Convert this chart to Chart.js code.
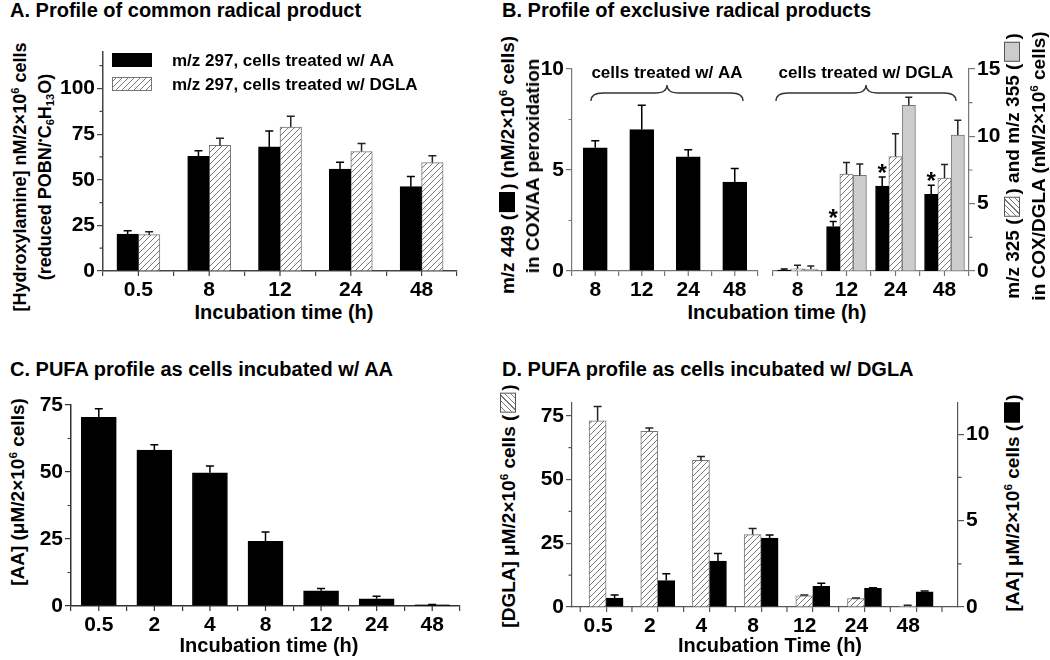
<!DOCTYPE html>
<html>
<head>
<meta charset="utf-8">
<script src="https://cdn.jsdelivr.net/npm/chart.js@4.4.1/dist/chart.umd.min.js"></script>
<style>
  html, body { margin: 0; padding: 0; background: #fff; }
  #fig { position: relative; width: 1050px; height: 660px; overflow: hidden;
         font-family: 'Liberation Sans', Arial, sans-serif; font-weight: bold; color: #000; }
  #fig canvas { position: absolute; }
  .title { position: absolute; font-size: 20px; line-height: 20px; white-space: nowrap; }
  .xt { position: absolute; font-size: 20px; line-height: 20px; white-space: nowrap; transform: translateX(-50%); }
  .yt { position: absolute; font-size: 19px; line-height: 20px; white-space: nowrap;
        transform: translate(-50%, -50%) rotate(-90deg); }
  .yt.small { font-size: 18px; }
  sup { font-size: 0.62em; vertical-align: 0.6em; line-height: 0; }
  sub { font-size: 0.62em; vertical-align: -0.3em; line-height: 0; }
  .sw { display: inline-block; width: 18px; height: 14px; border: 1px solid #555; vertical-align: -1px; margin: 0 2px; }
  .sw.black { background: #000; border-color: #000; }
  .sw.gray { background: #ccc; }
  .sw.hatch { background: repeating-linear-gradient(135deg, #fff 0 3px, #777 3px 4px); }
</style>
</head>
<body>
<div id="fig">
  <div class="title" style="left:10px;top:0px">A. Profile of common radical product</div>
  <div class="title" style="left:502px;top:0px">B. Profile of exclusive radical products</div>
  <div class="title" style="left:10px;top:359px">C. PUFA profile as cells incubated w/ AA</div>
  <div class="title" style="left:502px;top:359px">D. PUFA profile as cells incubated w/ DGLA</div>

  <canvas id="chartA"></canvas>
  <canvas id="chartBL"></canvas>
  <canvas id="chartBR"></canvas>
  <canvas id="chartC"></canvas>
  <canvas id="chartD"></canvas>

  <div class="xt" style="left:284px;top:302px">Incubation time (h)</div>
  <div class="xt" style="left:777px;top:302px">Incubation time (h)</div>
  <div class="xt" style="left:269px;top:635px">Incubation time (h)</div>
  <div class="xt" style="left:770px;top:635px">Incubation Time (h)</div>

  <div class="yt small" style="left:20px;top:177px">[Hydroxylamine] nM/2×10<sup>6</sup> cells</div>
  <div class="yt small" style="left:45px;top:177px">(reduced POBN/<sup>•</sup>C<sub>6</sub>H<sub>13</sub>O)</div>

  <div class="yt" style="left:508px;top:165px">m/z 449 (<span class="sw black"></span>) (nM/2×10<sup>6</sup> cells)</div>
  <div class="yt" style="left:533px;top:166px">in COX/AA peroxidation</div>
  <div class="yt" style="left:1013px;top:166px">m/z 325 (<span class="sw hatch"></span>) and m/z 355 (<span class="sw gray"></span>)</div>
  <div class="yt" style="left:1039px;top:166px">in COX/DGLA (nM/2×10<sup>6</sup> cells)</div>

  <div class="yt" style="left:18px;top:492px">[AA] (μM/2×10<sup>6</sup> cells)</div>
  <div class="yt" style="left:509px;top:506px">[DGLA] μM/2×10<sup>6</sup> cells (<span class="sw hatch"></span>)</div>
  <div class="yt" style="left:1013px;top:503px">[AA] μM/2×10<sup>6</sup> cells (<span class="sw black"></span>)</div>
</div>

<script>
// ---------- datos ----------
// A: hidroxilamina m/z 297
const timesA = ["0.5", "8", "12", "24", "48"];
const hydroxAA = [20.2, 62.8, 68.0, 55.8, 46.2];
const hydroxAAErr = [1.8, 3.1, 8.7, 3.8, 5.6];
const hydroxDGLA = [19.9, 68.8, 78.9, 65.5, 59.4];
const hydroxDGLAErr = [1.6, 3.9, 5.9, 4.4, 3.8];

// B: productos exclusivos
const timesB = ["8", "12", "24", "48"];
const m449AA = [6.1, 7.0, 5.65, 4.4];
const m449AAErr = [0.35, 1.2, 0.35, 0.67];
const m449DGLA = [0.05, 2.2, 4.2, 3.8];
const m449DGLAErr = [0.05, 0.25, 0.45, 0.45];
const m325DGLA = [0.17, 7.2, 8.5, 6.9];
const m325DGLAErr = [0.25, 0.85, 1.7, 1.0];
const m355DGLA = [0.15, 7.1, 12.3, 10.1];
const m355DGLAErr = [0.22, 0.85, 0.6, 1.1];
const starsB = [false, true, true, true];

// C: AA en células incubadas con AA
const timesC = ["0.5", "2", "4", "8", "12", "24", "48"];
const aaC = [70.4, 58.2, 49.7, 24.1, 5.7, 2.7, 0.4];
const aaCErr = [3.2, 2.0, 2.5, 3.5, 0.8, 0.9, 0.2];

// D: DGLA / AA en células incubadas con DGLA
const timesD = ["0.5", "2", "4", "8", "12", "24", "48"];
const dglaD = [73.0, 68.9, 57.5, 28.4, 4.4, 3.3, 0.4];
const dglaDErr = [5.6, 1.3, 1.5, 2.4, 0.3, 0.2, 0.3];
const aaD = [0.51, 1.53, 2.65, 3.98, 1.2, 1.08, 0.88];
const aaDErr = [0.18, 0.39, 0.45, 0.18, 0.17, 0.04, 0.04];

// ---------- estilo común ----------
const FONT = "'Liberation Sans', Arial, sans-serif";
Chart.defaults.font.family = FONT;
Chart.defaults.font.weight = "bold";
Chart.defaults.color = "#000";
Chart.defaults.animation = false;
Chart.defaults.responsive = false;
Chart.defaults.devicePixelRatio = 1;
Chart.defaults.events = [];
Chart.defaults.plugins.legend.display = false;
Chart.defaults.plugins.tooltip.enabled = false;

const tickFont = { family: FONT, size: 21, weight: "bold" };

function hatch(color = "#777") {
  const s = 6;
  const c = document.createElement("canvas");
  c.width = c.height = s;
  const g = c.getContext("2d");
  g.fillStyle = "#fff";
  g.fillRect(0, 0, s, s);
  g.strokeStyle = color;
  g.lineWidth = 1;
  g.beginPath();
  g.moveTo(0, s); g.lineTo(s, 0);
  g.moveTo(-1, 1); g.lineTo(1, -1);
  g.moveTo(s - 1, s + 1); g.lineTo(s + 1, s - 1);
  g.stroke();
  return g.createPattern(c, "repeat");
}

function place(id, left, top, width, height) {
  const c = document.getElementById(id);
  c.width = width;
  c.height = height;
  c.style.left = left + "px";
  c.style.top = top + "px";
  c.style.width = width + "px";
  c.style.height = height + "px";
  return c;
}

function xCat(color, width) {
  return {
    type: "category",
    offset: true,
    grid: { drawOnChartArea: false, drawTicks: true, tickLength: 5, color, lineWidth: 1.2, offset: true },
    border: { display: true, color, width },
    ticks: { font: tickFont, color: "#000", padding: 2, maxRotation: 0, autoSkip: false },
    afterFit: (s) => { s.height = 30; },
  };
}

function yLin(min, max, step, color, width, position = "left", w = 42) {
  return {
    type: "linear",
    position,
    min,
    max,
    grid: { drawOnChartArea: false, drawTicks: true, tickLength: 6, color, lineWidth: 1.2 },
    border: { display: true, color, width },
    ticks: { stepSize: step, includeBounds: false, font: tickFont, color: "#000", padding: 2 },
    afterFit: (s) => { s.width = w; },
  };
}

// ---------- plugins ----------
// barras de error (solo hacia arriba) y asteriscos
const errorBars = {
  id: "errorBars",
  afterDatasetsDraw(chart) {
    const { ctx } = chart;
    ctx.save();
    ctx.lineWidth = 1.5;
    chart.data.datasets.forEach((ds, i) => {
      if (!ds.err) return;
      const meta = chart.getDatasetMeta(i);
      const yScale = chart.scales[meta.yAxisID];
      meta.data.forEach((bar, j) => {
        const d = ds.data[j];
        const v = typeof d === "object" ? d.y : d;
        const top = yScale.getPixelForValue(v + ds.err[j]);
        const cap = ds.cap || 4;
        ctx.strokeStyle = ds.errColor || "#000";
        ctx.beginPath();
        ctx.moveTo(bar.x, bar.y);
        ctx.lineTo(bar.x, top);
        ctx.moveTo(bar.x - cap, top);
        ctx.lineTo(bar.x + cap, top);
        ctx.stroke();
        if (ds.stars && ds.stars[j]) {
          ctx.fillStyle = "#000";
          ctx.font = `bold 24px ${FONT}`;
          ctx.textAlign = "center";
          ctx.textBaseline = "alphabetic";
          ctx.fillText("*", bar.x, top + 4);
        }
      });
    });
    ctx.restore();
  },
};

// ticks menores estilo Origin
const minorTicks = {
  id: "minorTicks",
  afterDraw(chart) {
    const { ctx } = chart;
    ctx.save();
    ctx.lineWidth = 1.2;
    Object.values(chart.scales).forEach((s) => {
      if (!s.options.display) return;
      ctx.strokeStyle = s.options.border.color;
      ctx.beginPath();
      if (s.isHorizontal()) {
        const xs = [];
        if (s.type === "category") {
          s.ticks.forEach((t, i) => xs.push(s.getPixelForTick(i)));
        } else {
          for (let v = Math.ceil(s.min - 0.5) + 0.5; v < s.max; v += 1) xs.push(s.getPixelForValue(v));
        }
        xs.forEach((x) => { ctx.moveTo(x, s.top); ctx.lineTo(x, s.top + 5); });
      } else {
        const step = s.options.ticks.stepSize;
        const left = s.position === "left";
        const x = left ? s.right : s.left;
        for (let v = s.min + step / 2; v <= s.max; v += step) {
          const y = s.getPixelForValue(v);
          ctx.moveTo(x, y);
          ctx.lineTo(left ? x - 3.5 : x + 3.5, y);
        }
      }
      ctx.stroke();
    });
    ctx.restore();
  },
};

// leyenda dentro del área del gráfico
const boxLegend = {
  id: "boxLegend",
  afterDraw(chart, args, o) {
    if (!o.show) return;
    const { ctx, chartArea } = chart;
    ctx.save();
    chart.data.datasets.forEach((ds, i) => {
      const x = chartArea.left + o.x;
      const y = chartArea.top + o.y + i * o.rowGap;
      ctx.fillStyle = ds.backgroundColor;
      ctx.fillRect(x, y, o.w, o.h);
      ctx.strokeStyle = ds.borderColor;
      ctx.lineWidth = 1;
      ctx.strokeRect(x + 0.5, y + 0.5, o.w - 1, o.h - 1);
      ctx.fillStyle = "#000";
      ctx.font = `bold 17px ${FONT}`;
      ctx.textAlign = "left";
      ctx.textBaseline = "middle";
      ctx.fillText(ds.label, x + o.w + o.gap, y + o.h / 2 + 1);
    });
    ctx.restore();
  },
};

// llave con texto encima (panel B)
const brace = {
  id: "brace",
  afterDraw(chart, args, o) {
    if (!o.text) return;
    const { ctx, chartArea: a } = chart;
    const x0 = a.left + o.inset[0];
    const x1 = a.right - o.inset[1];
    const xm = (x0 + x1) / 2;
    const y = a.top + o.dy;
    const h = 8;
    ctx.save();
    ctx.strokeStyle = "#333";
    ctx.lineWidth = 1.3;
    ctx.beginPath();
    ctx.moveTo(x0, y + h);
    ctx.quadraticCurveTo(x0, y, x0 + 12, y);
    ctx.lineTo(xm - 12, y);
    ctx.quadraticCurveTo(xm, y, xm, y - h);
    ctx.quadraticCurveTo(xm, y, xm + 12, y);
    ctx.lineTo(x1 - 12, y);
    ctx.quadraticCurveTo(x1, y, x1, y + h);
    ctx.stroke();
    ctx.fillStyle = "#000";
    ctx.font = `bold 17px ${FONT}`;
    ctx.textAlign = "center";
    ctx.textBaseline = "middle";
    ctx.fillText(o.text, xm, y - 20);
    ctx.restore();
  },
};

const plugins = [errorBars, minorTicks, boxLegend, brace];
const HATCH = hatch();

// ---------- A ----------
new Chart(place("chartA", 58, 34, 407, 267), {
  type: "bar",
  data: {
    labels: timesA,
    datasets: [
      { label: "m/z 297, cells treated w/ AA", data: hydroxAA, err: hydroxAAErr,
        backgroundColor: "#000", borderColor: "#000", borderWidth: 1, barThickness: 21.5 },
      { label: "m/z 297, cells treated w/ DGLA", data: hydroxDGLA, err: hydroxDGLAErr,
        backgroundColor: HATCH, borderColor: "#777", borderWidth: 1, barThickness: 21.5, errColor: "#222" },
    ],
  },
  options: {
    layout: { padding: { top: 18, right: 8, left: 0, bottom: 0 } },
    scales: { x: xCat("#444", 1.5), y: yLin(0, 120, 25, "#444", 1.5, "left", 45) },
    plugins: { boxLegend: { show: true, x: 9, y: 1, w: 40, h: 14, rowGap: 24, gap: 20 } },
  },
  plugins,
});

// ---------- B izquierda (COX/AA) ----------
new Chart(place("chartBL", 532, 51, 230, 250), {
  type: "bar",
  data: {
    labels: timesB,
    datasets: [
      { label: "m/z 449 AA", data: m449AA, err: m449AAErr,
        backgroundColor: "#000", borderColor: "#000", borderWidth: 1, barThickness: 24 },
    ],
  },
  options: {
    layout: { padding: { top: 18, right: 4, left: 0, bottom: 0 } },
    scales: { x: xCat("#777", 1.2), y: yLin(0, 10, 5, "#777", 1.2, "left", 40) },
    plugins: { brace: { text: "cells treated w/ AA", inset: [19, 15], dy: 24 } },
  },
  plugins,
});

// ---------- B derecha (COX/DGLA) ----------
new Chart(place("chartBR", 769, 51, 235, 250), {
  type: "bar",
  data: {
    labels: timesB,
    datasets: [
      { label: "m/z 449 DGLA", data: m449DGLA, err: m449DGLAErr, stars: starsB, yAxisID: "y",
        backgroundColor: "#000", borderColor: "#000", borderWidth: 1, barThickness: 13.3, cap: 3.5 },
      { label: "m/z 325", data: m325DGLA, err: m325DGLAErr, yAxisID: "y2",
        backgroundColor: HATCH, borderColor: "#777", borderWidth: 1, barThickness: 13.3, cap: 3.5, errColor: "#222" },
      { label: "m/z 355", data: m355DGLA, err: m355DGLAErr, yAxisID: "y2",
        backgroundColor: "#cccccc", borderColor: "#777", borderWidth: 1, barThickness: 13.3, cap: 3.5, errColor: "#222" },
    ],
  },
  options: {
    layout: { padding: { top: 18, right: 0, left: 4, bottom: 0 } },
    scales: {
      x: xCat("#777", 1.2),
      y: { display: false, min: 0, max: 10 },
      y2: yLin(0, 15, 5, "#777", 1.2, "right", 35),
    },
    plugins: { brace: { text: "cells treated w/ DGLA", inset: [3, 13], dy: 24 } },
  },
  plugins,
});

// ---------- C ----------
new Chart(place("chartC", 31, 387, 437, 249), {
  type: "bar",
  data: {
    labels: timesC,
    datasets: [
      { label: "[AA]", data: aaC, err: aaCErr,
        backgroundColor: "#000", borderColor: "#000", borderWidth: 1, barThickness: 35 },
    ],
  },
  options: {
    layout: { padding: { top: 18, right: 8, left: 0, bottom: 0 } },
    scales: { x: xCat("#333", 1.5), y: yLin(0, 75, 25, "#333", 1.5, "left", 40) },
  },
  plugins,
});

// ---------- D ----------
const xD = {
  type: "linear",
  min: -0.66,
  max: 6.81,
  offset: false,
  grid: { drawOnChartArea: false, drawTicks: true, tickLength: 5, color: "#555", lineWidth: 1.2, offset: false },
  border: { display: true, color: "#555", width: 1.2 },
  ticks: {
    stepSize: 1, includeBounds: false, font: tickFont, color: "#000", padding: 2,
    maxRotation: 0, autoSkip: false, labelOffset: -8,
    callback: (v) => timesD[v] ?? "",
  },
  afterFit: (s) => { s.height = 30; },
};

new Chart(place("chartD", 532, 385, 461, 252), {
  type: "bar",
  data: {
    datasets: [
      { label: "[DGLA]", data: dglaD.map((v, i) => ({ x: i, y: v })), err: dglaDErr, yAxisID: "y",
        backgroundColor: HATCH, borderColor: "#777", borderWidth: 1, barThickness: 17, errColor: "#222" },
      { label: "[AA]", data: aaD.map((v, i) => ({ x: i, y: v })), err: aaDErr, yAxisID: "y2",
        backgroundColor: "#000", borderColor: "#000", borderWidth: 1, barThickness: 17 },
    ],
  },
  options: {
    layout: { padding: { top: 18, right: 0, left: 0, bottom: 0 } },
    scales: {
      x: xD,
      y: yLin(0, 80, 25, "#555", 1.2, "left", 40),
      y2: yLin(0, 11.8, 5, "#555", 1.2, "right", 35),
    },
  },
  plugins,
});
</script>
</body>
</html>
